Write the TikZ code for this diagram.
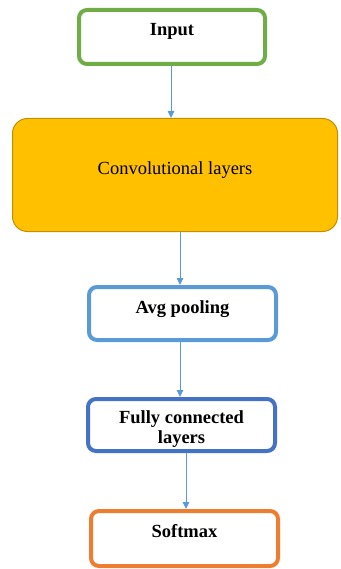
\documentclass[tikz,border=0pt]{standalone}
\usepackage{fontspec}
\setmainfont{Liberation Serif}
\usetikzlibrary{arrows.meta}

\begin{document}
\begin{tikzpicture}
  [x=1pt,y=-1pt,line cap=round,
   % Styles
   layer box/.style={draw,rounded corners=8pt,inner sep=0pt,align=center,
     font=\fontsize{18.5}{20}\selectfont\bfseries},
   thick box/.style={layer box,line width=4pt},
   flow arrow/.style={draw=arrowcolor,line width=0.9pt,
     -{Triangle[length=7pt,width=6.5pt]}}]

  % Colors
  \definecolor{inputcolor}{HTML}{70AD47}
  \definecolor{convfill}{HTML}{FFC000}
  \definecolor{convline}{HTML}{BF9000}
  \definecolor{poolcolor}{HTML}{5B9BD5}
  \definecolor{densecolor}{HTML}{4472C4}
  \definecolor{softcolor}{HTML}{ED7D31}
  \definecolor{arrowcolor}{HTML}{5B9BD5}

  \useasboundingbox (0,0) rectangle (340,569);

  % The graphic
  \node[thick box,draw=inputcolor,minimum width=186pt,minimum height=54pt,
        text height=26pt,text depth=28pt] (input) at (172,37) {Input};

  \node[layer box,draw=convline,fill=convfill,line width=1pt,rounded corners=15pt,
        font=\fontsize{18.5}{20}\selectfont,
        minimum width=325pt,minimum height=113pt,
        text height=56.5pt,text depth=56.5pt] (conv) at (175,175) {Convolutional layers};

  \node[thick box,draw=poolcolor,minimum width=187pt,minimum height=53pt,
        text height=26pt,text depth=27pt] (pool) at (182.5,313.5) {Avg pooling};

  \node[thick box,draw=densecolor,minimum width=187pt,minimum height=52pt,
        text height=44pt,text depth=8pt] (dense) at (181.5,425) {Fully connected\\layers};

  \node[thick box,draw=softcolor,minimum width=187pt,minimum height=55pt,
        text height=26pt,text depth=29pt] (softmax) at (184.5,538.5) {Softmax};

  % Connectors
  \draw[flow arrow] ([xshift=-1pt]input.south) -- ([xshift=-1pt]input.south |- conv.north);
  \draw[flow arrow] ([xshift=5pt]conv.south) -- ([xshift=5pt]conv.south |- pool.north);
  \draw[flow arrow] ([xshift=-2.5pt]pool.south) -- ([xshift=-2.5pt]pool.south |- dense.north);
  \draw[flow arrow] ([xshift=4.5pt]dense.south) -- ([xshift=4.5pt]dense.south |- softmax.north);
\end{tikzpicture}
\end{document}
